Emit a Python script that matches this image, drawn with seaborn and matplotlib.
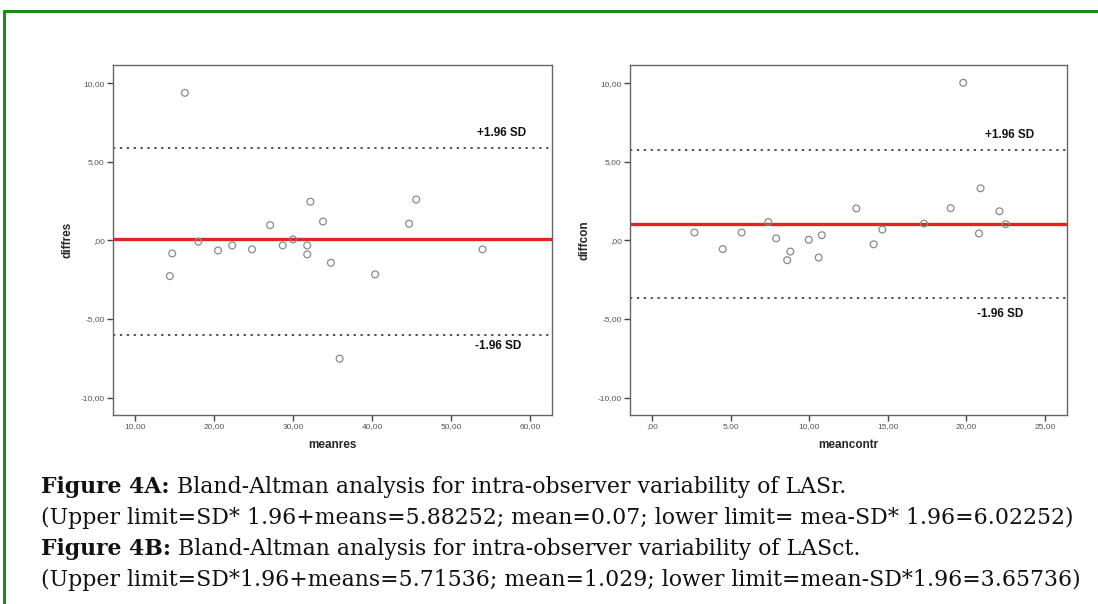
import numpy as np
import pandas as pd
import matplotlib
matplotlib.use("Agg")
import matplotlib.pyplot as plt
import seaborn as sns
from matplotlib.lines import Line2D
from matplotlib.ticker import FuncFormatter

# Figure 4A: intra-observer LASr
meanres = [16.3, 32.2, 27.1, 33.8, 14.7, 14.4, 18.0, 20.5, 22.3, 24.8,
           28.7, 30.0, 31.8, 31.8, 34.8, 35.9, 45.6, 44.7, 54.0, 40.4]
diffres = [9.38, 2.46, 0.97, 1.20, -0.83, -2.27, -0.08, -0.64, -0.32, -0.57,
           -0.32, 0.06, -0.32, -0.89, -1.42, -7.52, 2.60, 1.06, -0.57, -2.16]
res_mean = 0.07
res_upper = 5.88
res_lower = -6.02

# Figure 4B: intra-observer LASct
meancontr = [13.0, 7.4, 2.7, 5.7, 4.5, 7.9, 8.8, 8.6, 9.97, 10.8,
             10.6, 19.8, 20.9, 19.0, 22.1, 14.65, 14.1, 17.3, 20.8, 22.5]
diffcon = [2.03, 1.17, 0.50, 0.50, -0.55, 0.13, -0.71, -1.26, 0.04, 0.33,
           -1.09, 10.02, 3.31, 2.05, 1.85, 0.69, -0.25, 1.07, 0.44, 1.03]
con_mean = 1.029
con_upper = 5.715
con_lower = -3.657

caption_lines = [
    ("Figure 4A:", " Bland-Altman analysis for intra-observer variability of LASr."),
    ("", "(Upper limit=SD* 1.96+means=5.88252; mean=0.07; lower limit= mea-SD* 1.96=6.02252)"),
    ("Figure 4B:", " Bland-Altman analysis for intra-observer variability of LASct."),
    ("", "(Upper limit=SD*1.96+means=5.71536; mean=1.029; lower limit=mean-SD*1.96=3.65736)"),
]

sns.set_style("white")
plt.rcParams['font.family'] = ['Liberation Sans', 'DejaVu Sans']

fig = plt.figure(figsize=(10.98, 6.04), dpi=100)

# green frame (top and left edge only are visible)
fig.add_artist(Line2D([4 / 1098, 1.0], [1 - 11 / 604, 1 - 11 / 604], color="#1a8a1a", lw=2.2))
fig.add_artist(Line2D([4 / 1098, 4 / 1098], [1 - 11 / 604, 0.0], color="#1a8a1a", lw=2.2))


def spss_fmt(v, pos):
    # SPSS style with comma decimal, zero shown as ",00"
    if abs(v) < 1e-9:
        return ",00"
    return f"{v:.2f}".replace(".", ",")


def bland_altman(ax, x, y, mean, upper, lower, xlabel, ylabel, xlim, xticks, plus_pos, minus_pos):
    df = pd.DataFrame({"x": x, "y": y})
    sns.scatterplot(data=df, x="x", y="y", ax=ax, marker="o", s=24,
                    facecolor="none", edgecolor="#8a8a8a", linewidth=0.9, zorder=3)
    ax.axhline(mean, color="#e02424", lw=2.4, zorder=2)
    ax.axhline(upper, color="#222222", lw=1.1, ls=(0, (1.5, 3)), zorder=2)
    ax.axhline(lower, color="#222222", lw=1.1, ls=(0, (1.5, 3)), zorder=2)
    ax.text(plus_pos[0], plus_pos[1], "+1.96 SD", fontsize=8.5, fontweight="bold",
            va="center", ha="left", color="#111111")
    ax.text(minus_pos[0], minus_pos[1], "-1.96 SD", fontsize=8.5, fontweight="bold",
            va="center", ha="left", color="#111111")
    ax.set_xlim(*xlim)
    ax.set_ylim(-11.1, 11.15)
    ax.set_xticks(xticks)
    ax.set_yticks([-10, -5, 0, 5, 10])
    ax.xaxis.set_major_formatter(FuncFormatter(spss_fmt))
    ax.yaxis.set_major_formatter(FuncFormatter(spss_fmt))
    ax.tick_params(axis="both", direction="out", length=4, width=1, color="#444444",
                   labelsize=6, labelcolor="#555555", pad=2, left=True, bottom=True)
    for sp in ax.spines.values():
        sp.set_color("#666666")
        sp.set_linewidth(1.0)
    ax.set_xlabel(xlabel, fontsize=8.5, fontweight="bold", labelpad=6)
    ax.set_ylabel(ylabel, fontsize=8.5, fontweight="bold", labelpad=5)


ax1 = fig.add_axes([113 / 1098, 1 - 415 / 604, 439 / 1098, 350 / 604])
bland_altman(ax1, meanres, diffres, res_mean, res_upper, res_lower, "meanres", "diffres",
             (7.2, 62.8), [10, 20, 30, 40, 50, 60], (53.3, 6.8), (53.0, -6.73))

ax2 = fig.add_axes([630 / 1098, 1 - 415 / 604, 437 / 1098, 350 / 604])
bland_altman(ax2, meancontr, diffcon, con_mean, con_upper, con_lower, "meancontr", "diffcon",
             (-1.4, 26.4), [0, 5, 10, 15, 20, 25], (21.2, 6.67), (20.7, -4.65))

# caption below the charts, font size fitted so the longest line spans ~1034 px
cap_family = ["DejaVu Serif"]
renderer = fig.canvas.get_renderer()
probe = fig.text(0, 0, caption_lines[3][1], fontsize=10, family=cap_family)
w10 = probe.get_window_extent(renderer=renderer).width
probe.remove()
cap_size = 10 * 1034 / w10

baselines_px = [493, 524, 555, 586]
for (bold, rest), yp in zip(caption_lines, baselines_px):
    x0 = 41 / 1098
    yy = 1 - yp / 604
    if bold:
        t = fig.text(x0, yy, bold, fontsize=cap_size, fontweight="bold", va="baseline",
                     ha="left", family=cap_family, color="#111111")
        bb = t.get_window_extent(renderer=renderer)
        x0 = bb.x1 / 1098
    fig.text(x0, yy, rest, fontsize=cap_size, va="baseline", ha="left",
             family=cap_family, color="#111111")

fig.savefig("out.png", dpi=100)
